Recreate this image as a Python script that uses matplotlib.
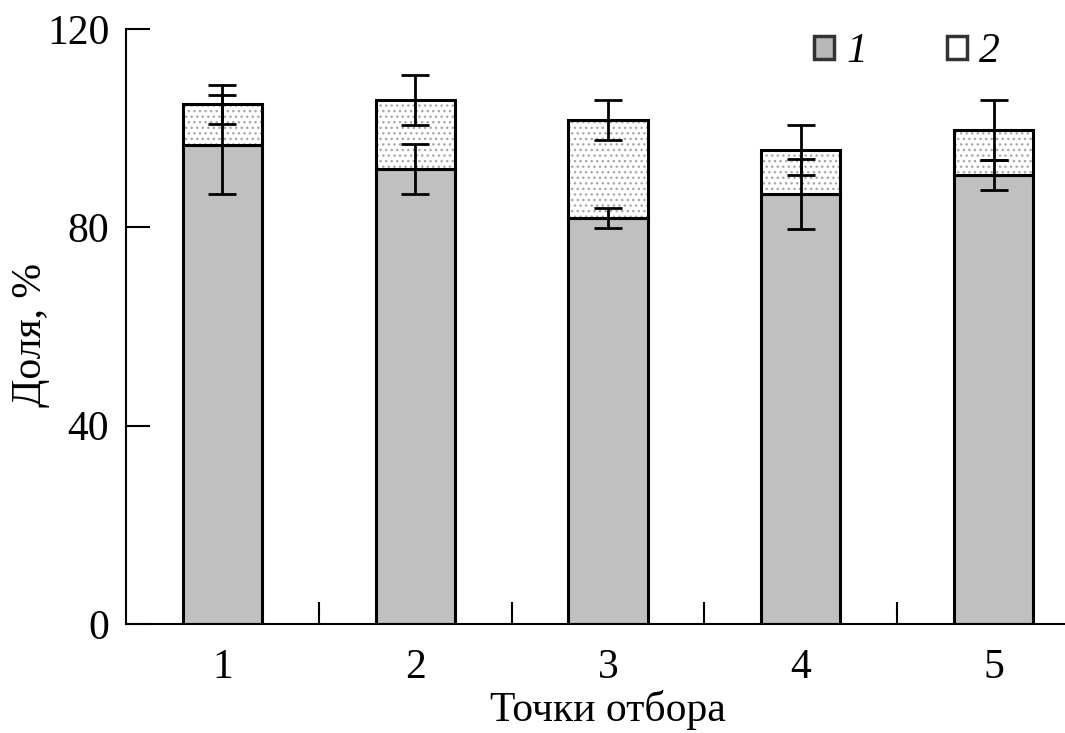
import numpy as np
import matplotlib.pyplot as plt
from matplotlib.patches import Patch

# Точки отбора и доли (%) двух групп
points = ["1", "2", "3", "4", "5"]
share_1 = [96.7, 91.8, 81.9, 86.7, 90.6]
share_2 = [8.1, 13.9, 19.8, 8.9, 9.0]
err_1 = [10, 5, 2, 7, 3]
err_total = [4, 5, 4, 5, 6]
legend_labels = ["1", "2"]

plt.rcParams['font.family'] = ['Liberation Serif', 'DejaVu Serif']

fig = plt.figure(figsize=(10.65, 7.33), dpi=100)
ax = fig.add_axes([126 / 1065, 1 - 624 / 733, (1090 - 126) / 1065, (624 - 29) / 733])

x = np.arange(1, len(points) + 1)
s1 = np.array(share_1)
s2 = np.array(share_2)
total = s1 + s2
w = 0.41

ax.bar(x, s1, width=w, color="#c0c0c0", edgecolor="black", linewidth=2.2, zorder=2)
# точечная заливка второго слоя
ax.bar(x, s2, bottom=s1, width=w, color="white", edgecolor="#a8a8a8", hatch="...",
       linewidth=0, zorder=2)
ax.bar(x, s2, bottom=s1, width=w, color="none", edgecolor="black", linewidth=2.2, zorder=3)

ax.errorbar(x, s1, yerr=err_1, fmt="none", ecolor="black", elinewidth=2,
            capsize=10, capthick=2, zorder=4)
ax.errorbar(x, total, yerr=err_total, fmt="none", ecolor="black", elinewidth=2,
            capsize=10, capthick=2, zorder=4)

ax.set_xlim(0.5, 5.5)
ax.set_ylim(0, 120)
ax.set_yticks([0, 40, 80, 120])
ax.tick_params(axis="y", direction="in", length=17, width=1.5, labelsize=30, pad=12)

ax.set_xticks([1.5, 2.5, 3.5, 4.5])
ax.set_xticklabels([])
ax.tick_params(axis="x", which="major", direction="in", length=16, width=1.5)
ax.set_xticks(x, minor=True)
ax.set_xticklabels(points, minor=True)
ax.tick_params(axis="x", which="minor", length=0, labelsize=30, pad=18)

for side in ["top", "right"]:
    ax.spines[side].set_visible(False)
for side in ["left", "bottom"]:
    ax.spines[side].set_linewidth(1.5)

ax.set_ylabel("Доля, %", fontsize=30)
ax.yaxis.set_label_coords(-0.079, 0.486)
ax.set_xlabel("Точки отбора", fontsize=30, labelpad=2)

handles = [Patch(facecolor="#b8b8b8", edgecolor="#333333", linewidth=2.5),
           Patch(facecolor="white", edgecolor="#333333", linewidth=2.5)]
leg = fig.legend(handles, legend_labels, loc="center left",
                 bbox_to_anchor=(814 / 1065, 1 - 52 / 733), ncol=2, frameon=False,
                 handlelength=0.48, handleheight=0.48, handletextpad=0.3,
                 columnspacing=1.9, borderpad=0, borderaxespad=0,
                 prop={"size": 30, "style": "italic"})

fig.savefig("out.png", dpi=100)
